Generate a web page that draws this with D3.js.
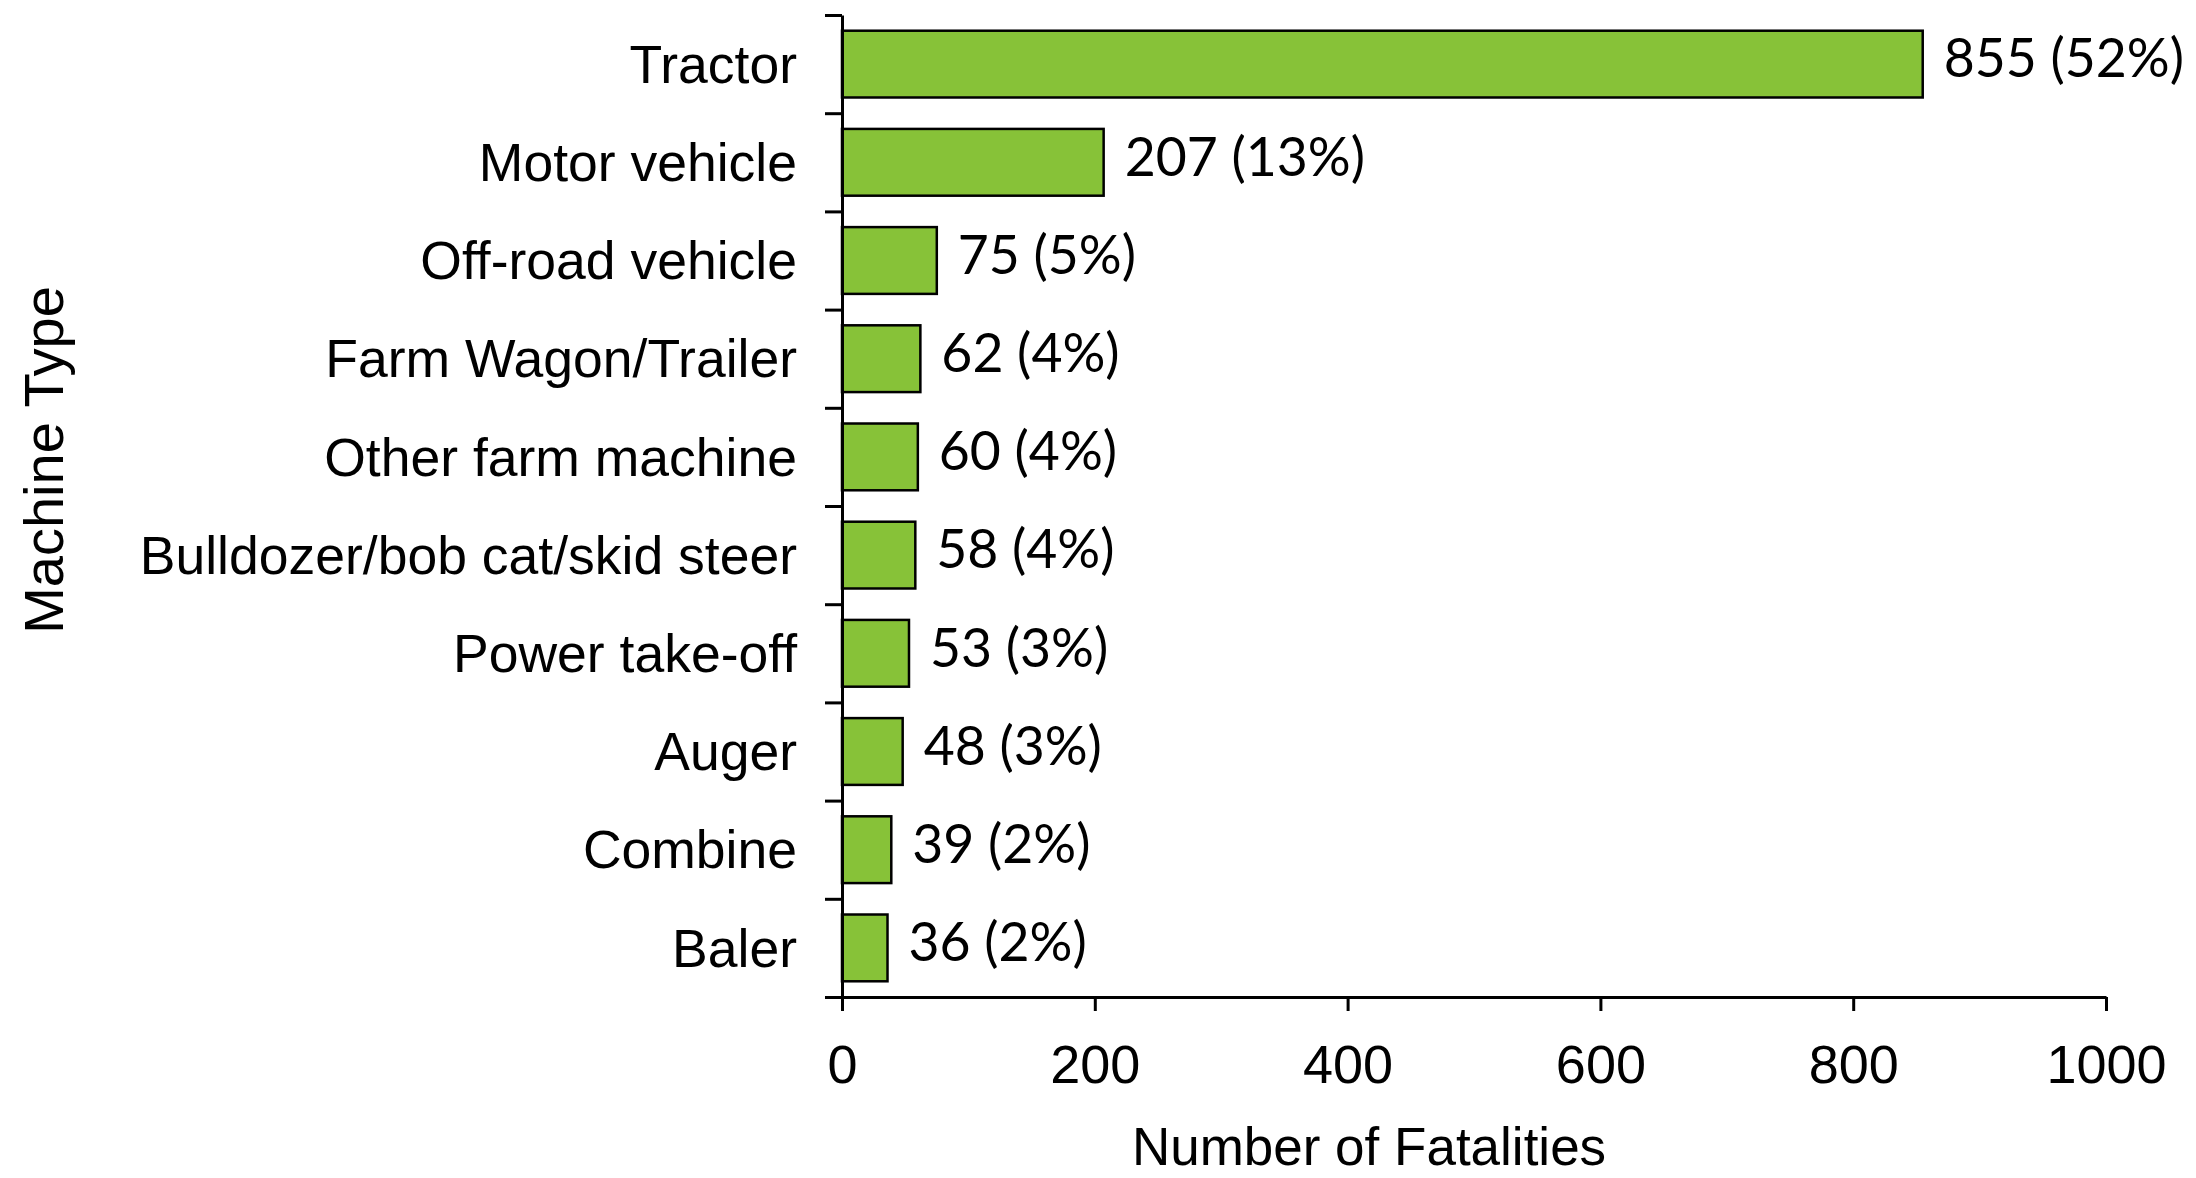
<!DOCTYPE html>
<html>
<head>
<meta charset="utf-8">
<script src="https://cdn.jsdelivr.net/npm/d3@7"></script>
<style>
  html, body { margin: 0; padding: 0; background: #fff; }
  svg { display: block; }
</style>
</head>
<body>
<svg id="chart" width="2196" height="1178"></svg>
<script>
const categories = ["Tractor", "Motor vehicle", "Off-road vehicle", "Farm Wagon/Trailer", "Other farm machine",
  "Bulldozer/bob cat/skid steer", "Power take-off", "Auger", "Combine", "Baler"];
const fatalities = [855, 207, 75, 62, 60, 58, 53, 48, 39, 36];
const percents = [52, 13, 5, 4, 4, 4, 3, 3, 2, 2];
const xTicks = [0, 200, 400, 600, 800, 1000];
const xTitle = "Number of Fatalities";
const yTitle = "Machine Type";

(function () {
const svg = d3.select("#chart");
const plotLeft = 842, plotRight = 2106, plotTop = 15, plotBottom = 997;

const x = d3.scaleLinear().domain([0, 1000]).range([plotLeft, plotRight]);
const y = d3.scaleBand().domain(categories).range([plotTop, plotBottom]).paddingInner(0.32).paddingOuter(0.16);
const yBound = d3.scaleLinear().domain([0, categories.length]).range([plotTop, plotBottom]);

const arial = "'Liberation Sans', Arial, sans-serif";
const calibri = "Lato, 'Open Sans', sans-serif";

// bars
svg.append("g").selectAll("rect").data(categories).join("rect")
  .attr("x", x(0))
  .attr("y", d => y(d))
  .attr("width", (d, i) => x(fatalities[i]) - x(0))
  .attr("height", y.bandwidth())
  .attr("fill", "#87C238")
  .attr("stroke", "#000")
  .attr("stroke-width", 2.5);

// x axis
const xAxis = svg.append("g").attr("transform", `translate(0,${plotBottom})`)
  .call(d3.axisBottom(x).tickValues(xTicks).tickSize(14).tickSizeOuter(0).tickPadding(34).tickFormat(d3.format("d")));
xAxis.select(".domain").attr("stroke-width", 3);
xAxis.selectAll(".tick line").attr("stroke-width", 3);
xAxis.selectAll("text").attr("font-family", arial).attr("font-size", 54).attr("fill", "#000");

// y axis (boundary ticks)
const yAxis = svg.append("g").attr("transform", `translate(${plotLeft},0)`)
  .call(d3.axisLeft(yBound).tickValues(d3.range(categories.length + 1)).tickSize(17).tickSizeOuter(0).tickFormat(""));
yAxis.select(".domain").attr("stroke-width", 3);
yAxis.selectAll(".tick line").attr("stroke-width", 3);

// category labels
svg.append("g").selectAll("text").data(categories).join("text")
  .attr("x", 797)
  .attr("y", d => y(d) + y.bandwidth() / 2)
  .attr("dy", "0.35em")
  .attr("text-anchor", "end")
  .attr("font-family", arial)
  .attr("font-size", 53.5)
  .attr("fill", "#000")
  .text(d => d);

// value labels
svg.append("g").selectAll("text").data(categories).join("text")
  .attr("x", (d, i) => x(fatalities[i]) + 21)
  .attr("y", d => y(d) + y.bandwidth() / 2)
  .attr("dy", "0.25em")
  .attr("font-family", calibri)
  .attr("font-size", 53.5)
  .attr("fill", "#000")
  .text((d, i) => `${fatalities[i]} (${percents[i]}%)`);

// axis titles
svg.append("text")
  .attr("x", 1369).attr("y", 1165)
  .attr("text-anchor", "middle")
  .attr("font-family", arial).attr("font-size", 53).attr("fill", "#000")
  .text(xTitle);

svg.append("text")
  .attr("transform", "translate(63,460) rotate(-90)")
  .attr("text-anchor", "middle")
  .attr("font-family", arial).attr("font-size", 56).attr("fill", "#000")
  .text(yTitle);
})();
</script>
</body>
</html>
